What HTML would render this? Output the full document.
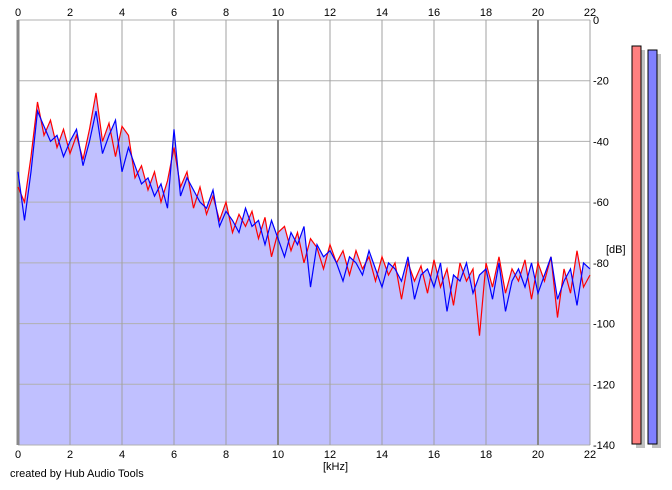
<!DOCTYPE html>
<html><head><meta charset="utf-8"><style>
body{margin:0;background:#fff;}
svg text{font-family:"Liberation Sans",sans-serif;font-size:11px;fill:#000;}
</style></head><body>
<svg id="chart" width="672" height="485" xmlns="http://www.w3.org/2000/svg">
<g id="fills"></g><g id="grid"></g><g id="lines"></g><g id="labels"></g>
<text x="10" y="477">created by Hub Audio Tools</text>
<text x="323" y="470">[kHz]</text>
<text x="606" y="253">[dB]</text>
<rect x="636" y="50" width="9" height="398" fill="#c0c0c0"/>
<rect x="632" y="46" width="9" height="398" fill="#ff8080" stroke="#000" stroke-width="1"/>
<rect x="652" y="54" width="9" height="394" fill="#c0c0c0"/>
<rect x="648" y="50" width="9" height="394" fill="#8080ff" stroke="#000" stroke-width="1"/>
</svg>
<script>
const freqs = [];
for (let i = 0; i <= 88; i++) freqs.push(i * 0.25);
const redDb = [-55,-60,-45,-27,-38,-33,-42,-36,-44,-38,-46,-36,-24,-40,-34,-45,-35,-38,-52,-48,-56,-50,-60,-53,-42,-55,-50,-62,-55,-64,-58,-66,-60,-70,-64,-68,-63,-72,-65,-78,-70,-68,-76,-70,-80,-72,-75,-82,-74,-80,-76,-84,-76,-82,-78,-86,-78,-84,-80,-92,-80,-86,-81,-90,-79,-88,-82,-94,-80,-86,-82,-104,-80,-88,-78,-90,-82,-86,-79,-92,-80,-86,-78,-98,-82,-90,-76,-88,-84];
const blueDb = [-50,-66,-50,-30,-35,-40,-38,-45,-40,-36,-48,-40,-30,-44,-38,-33,-50,-42,-48,-54,-52,-58,-54,-62,-36,-58,-52,-56,-60,-62,-56,-68,-63,-66,-70,-62,-68,-66,-74,-66,-72,-78,-70,-74,-68,-88,-74,-78,-76,-80,-86,-78,-80,-84,-76,-82,-88,-80,-82,-86,-78,-92,-84,-82,-88,-80,-96,-84,-86,-80,-90,-84,-82,-92,-80,-96,-86,-82,-88,-80,-90,-84,-78,-92,-86,-82,-94,-80,-82];
const xTicks = [0,2,4,6,8,10,12,14,16,18,20,22];
const yTicks = [0,-20,-40,-60,-80,-100,-120,-140];
const L=18,R=590,T=20,B=445;
const xs = f => L + f/22*(R-L);
const ys = d => T + (-d)/140*(B-T);
const NS="http://www.w3.org/2000/svg";
function mk(tag, parent, attrs){const e=document.createElementNS(NS,tag);for(const k in attrs)e.setAttribute(k,attrs[k]);document.getElementById(parent).appendChild(e);return e;}
function pts(arr){return freqs.map((f,i)=>xs(f).toFixed(1)+","+ys(arr[i]).toFixed(1)).join(" ");}
[redDb, blueDb].forEach((arr,si)=>{
  const p=mk("polygon","fills",{points:xs(0)+","+B+" "+pts(arr)+" "+xs(22)+","+B,fill:"#c0c0ff"});
  
  
});
yTicks.forEach(d=>{
  const l=mk("line","grid",{x1:L,x2:R,y1:ys(d),y2:ys(d),stroke:"#b0b0b0","stroke-width":1});
  
  
  const t=mk("text","labels",{x:R+3,y:ys(d)+4});
  t.textContent=d;
  
  
});
xTicks.forEach(f=>{
  const major=(f%10===0);
  const l=mk("line","grid",{x1:xs(f),x2:xs(f),y1:T,y2:B,stroke:major?"#888":"#a0a0a0","stroke-width":major?(f===0?3:2):1});
  
  
  const t1=mk("text","labels",{x:xs(f),y:16,"text-anchor":"middle"});
  t1.textContent=f;
  
  
  const t2=mk("text","labels",{x:xs(f),y:458,"text-anchor":"middle"});
  t2.textContent=f;
  
  
});
const rl=mk("polyline","lines",{points:pts(redDb),fill:"none",stroke:"#ff0000","stroke-width":1.2});


const bl=mk("polyline","lines",{points:pts(blueDb),fill:"none",stroke:"#0000ff","stroke-width":1.2});


</script>
</body></html>
